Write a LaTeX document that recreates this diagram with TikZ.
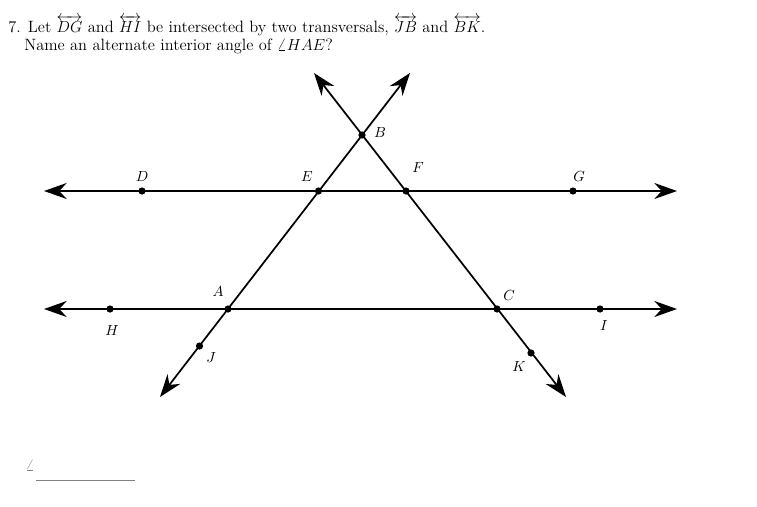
\documentclass[tikz,border=0pt]{standalone}
\usepackage{amsmath}
\usetikzlibrary{arrows.meta}

\tikzset{
	geoline/.style={line width=1.3pt, {Stealth[length=17pt, width=12pt, inset=5.5pt]}-{Stealth[length=17pt, width=12pt, inset=5.5pt]}},
	lbl/.style={font=\fontsize{11}{13}\selectfont},
	qtext/.style={anchor=base west, inner sep=0pt, font=\fontsize{12.3}{14}\selectfont}
}

\begin{document}
\begin{tikzpicture}[x=0.75pt, y=-0.75pt]
		\useasboundingbox (0, 0) rectangle (757, 507);
		
		% question
		\node[qtext] (q1) at (8, 32) {7. Let $\overleftrightarrow{DG}$ and $\overleftrightarrow{HI}$ be intersected by two transversals, $\overleftrightarrow{JB}$ and $\overleftrightarrow{BK}$.};
		\node[qtext] (q2) at (24, 50) {Name an alternate interior angle of $\angle HAE$?};
		
		% points
		\coordinate (D) at (142, 191);
		\coordinate (E) at (318.5, 191);
		\coordinate (F) at (406, 191);
		\coordinate (G) at (573, 191);
		\coordinate (H) at (110, 309);
		\coordinate (A) at (228, 309);
		\coordinate (C) at (497, 309);
		\coordinate (I) at (600, 309);
		\coordinate (B) at (362, 135);
		\coordinate (J) at (199.5, 346);
		\coordinate (K) at (531, 353);
		
		% line ends
		\coordinate (dgL) at (44, 191);
		\coordinate (dgR) at (677, 191);
		\coordinate (hiL) at (44, 309);
		\coordinate (hiR) at (677, 309);
		\coordinate (jbL) at (160, 397);
		\coordinate (jbU) at (410, 73);
		\coordinate (bkU) at (314, 73);
		\coordinate (bkL) at (566, 397);
		
		\draw[geoline] (dgL) -- (dgR);
		\draw[geoline] (hiL) -- (hiR);
		\draw[geoline] (jbL) -- (jbU);
		\draw[geoline] (bkU) -- (bkL);
		
		\foreach \p in {D, E, F, G, H, A, C, I, B, J, K}
			\fill (\p) circle (3.6);
		
		\node[lbl] at (142, 177) {$D$};
		\node[lbl] at (307, 177) {$E$};
		\node[lbl] at (418, 168) {$F$};
		\node[lbl] at (579, 177) {$G$};
		\node[lbl] at (380, 133) {$B$};
		\node[lbl] at (218, 292) {$A$};
		\node[lbl] at (509, 296) {$C$};
		\node[lbl] at (112, 331) {$H$};
		\node[lbl] at (604, 326) {$I$};
		\node[lbl] at (211, 358) {$J$};
		\node[lbl] at (519, 367) {$K$};
		
		% answer blank
		\node[text=gray, font=\large] (ang) at (30, 465) {$\angle$};
		\draw[gray, line width=0.6pt] (36, 480) -- (135, 480);
	\end{tikzpicture}
\end{document}
